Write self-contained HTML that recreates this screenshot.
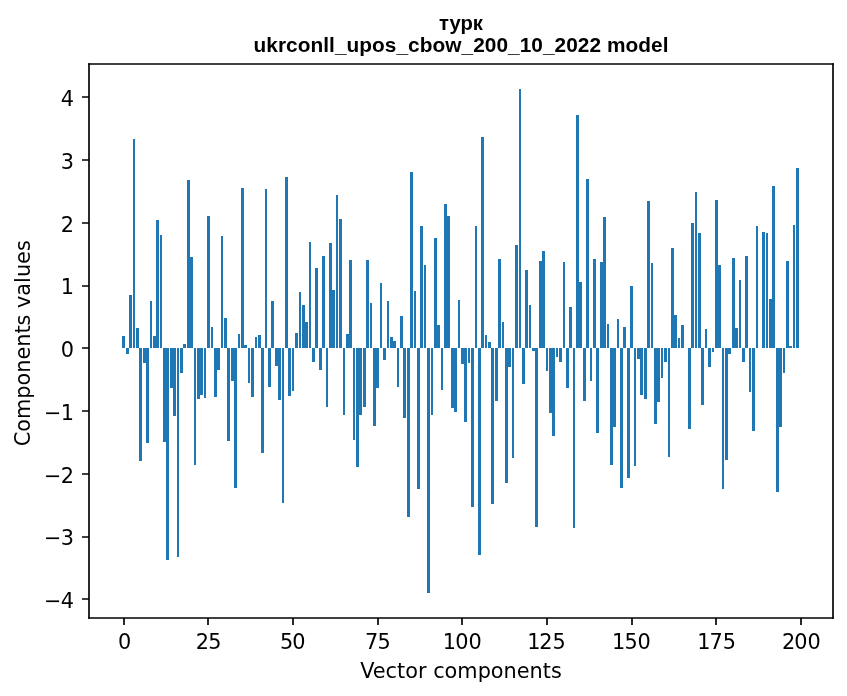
<!DOCTYPE html>
<html lang="uk">
<head>
<meta charset="utf-8">
<title>турк — ukrconll_upos_cbow_200_10_2022 model</title>
<style>
html,body{margin:0;padding:0;background:#fff;}
body{width:847px;height:696px;overflow:hidden;}
svg{display:block;}
.t{font-family:"Liberation Sans","DejaVu Sans",sans-serif;font-weight:bold;fill:#000;}
.l{font-family:"DejaVu Sans","Liberation Sans",sans-serif;fill:#000;}
</style>
</head>
<body>
<svg width="847" height="696" viewBox="0 0 847 696">
<rect x="0" y="0" width="847" height="696" fill="#ffffff"/>
<path d="M122 336h3v12h-3zM126 348h3v6h-3zM129 295h3v53h-3zM133 139h2v209h-2zM136 328h3v20h-3zM139 348h3v113h-3zM143 348h3v15h-3zM146 348h3v95h-3zM150 301h2v47h-2zM153 336h3v12h-3zM156 220h3v128h-3zM160 235h2v113h-2zM163 348h3v94h-3zM166 348h3v212h-3zM170 348h3v40h-3zM173 348h3v68h-3zM177 348h2v209h-2zM180 348h3v25h-3zM183 344h3v4h-3zM187 180h3v168h-3zM190 257h3v91h-3zM194 348h2v117h-2zM197 348h3v51h-3zM200 348h3v47h-3zM204 348h2v50h-2zM207 216h3v132h-3zM211 327h2v21h-2zM214 348h3v49h-3zM217 348h3v22h-3zM221 236h2v112h-2zM224 318h3v30h-3zM227 348h3v93h-3zM231 348h3v33h-3zM234 348h3v140h-3zM238 334h2v14h-2zM241 188h3v160h-3zM244 345h3v3h-3zM248 348h2v35h-2zM251 348h3v49h-3zM255 337h2v11h-2zM258 335h3v13h-3zM261 348h3v105h-3zM265 189h2v159h-2zM268 348h3v39h-3zM271 301h3v47h-3zM275 348h3v18h-3zM278 348h3v52h-3zM282 348h2v155h-2zM285 177h3v171h-3zM288 348h3v48h-3zM292 348h2v43h-2zM295 333h3v15h-3zM299 292h2v56h-2zM302 305h3v43h-3zM305 322h3v26h-3zM309 242h2v106h-2zM312 348h3v14h-3zM315 268h3v80h-3zM319 348h3v22h-3zM322 256h3v92h-3zM326 348h2v59h-2zM329 243h3v105h-3zM332 290h3v58h-3zM336 195h2v153h-2zM339 219h3v129h-3zM343 348h2v67h-2zM346 334h3v14h-3zM349 260h3v88h-3zM353 348h2v92h-2zM356 348h3v119h-3zM359 348h3v67h-3zM363 348h3v59h-3zM366 260h3v88h-3zM370 303h2v45h-2zM373 348h3v78h-3zM376 348h3v40h-3zM380 283h2v65h-2zM383 348h3v12h-3zM387 301h2v47h-2zM390 337h3v11h-3zM393 341h3v7h-3zM397 348h2v39h-2zM400 316h3v32h-3zM403 348h3v70h-3zM407 348h3v169h-3zM410 172h3v176h-3zM414 291h2v57h-2zM417 348h3v141h-3zM420 226h3v122h-3zM424 265h2v83h-2zM427 348h3v245h-3zM431 348h2v67h-2zM434 238h3v110h-3zM437 325h3v23h-3zM441 348h2v42h-2zM444 204h3v144h-3zM447 216h3v132h-3zM451 348h3v60h-3zM454 348h3v64h-3zM458 300h2v48h-2zM461 348h3v16h-3zM464 348h3v74h-3zM468 348h2v15h-2zM471 348h3v159h-3zM475 226h2v122h-2zM478 348h3v207h-3zM481 137h3v211h-3zM485 335h2v13h-2zM488 342h3v6h-3zM491 348h3v156h-3zM495 348h3v53h-3zM498 259h3v89h-3zM502 322h2v26h-2zM505 348h3v135h-3zM508 348h3v19h-3zM512 348h2v110h-2zM515 245h3v103h-3zM519 89h2v259h-2zM522 348h3v36h-3zM525 270h3v78h-3zM529 305h2v43h-2zM532 348h3v3h-3zM535 348h3v179h-3zM539 261h3v87h-3zM542 251h3v97h-3zM546 348h2v23h-2zM549 348h3v65h-3zM552 348h3v88h-3zM556 348h2v9h-2zM559 348h3v14h-3zM563 262h2v86h-2zM566 348h3v40h-3zM569 307h3v41h-3zM573 348h2v180h-2zM576 115h3v233h-3zM579 282h3v66h-3zM583 348h3v53h-3zM586 179h3v169h-3zM590 348h2v33h-2zM593 259h3v89h-3zM596 348h3v85h-3zM600 262h3v86h-3zM603 217h3v131h-3zM607 324h2v24h-2zM610 348h3v117h-3zM613 348h3v79h-3zM617 319h2v29h-2zM620 348h3v140h-3zM623 327h3v21h-3zM627 348h3v130h-3zM630 286h3v62h-3zM634 348h2v118h-2zM637 348h3v11h-3zM640 348h3v47h-3zM644 348h3v51h-3zM647 201h3v147h-3zM651 263h2v85h-2zM654 348h3v76h-3zM657 348h3v54h-3zM661 348h2v30h-2zM664 348h3v14h-3zM668 348h2v109h-2zM671 248h3v100h-3zM674 315h3v33h-3zM678 338h2v10h-2zM681 325h3v23h-3zM688 348h3v81h-3zM691 223h3v125h-3zM695 192h2v156h-2zM698 233h3v115h-3zM701 348h3v57h-3zM705 329h2v19h-2zM708 348h3v19h-3zM712 348h2v4h-2zM715 200h3v148h-3zM718 265h3v83h-3zM722 348h2v141h-2zM725 348h3v112h-3zM728 348h3v6h-3zM732 258h3v90h-3zM735 328h3v20h-3zM739 280h2v68h-2zM742 348h3v14h-3zM745 256h3v92h-3zM749 348h2v44h-2zM752 348h3v83h-3zM756 226h2v122h-2zM762 232h3v116h-3zM766 233h2v115h-2zM769 299h3v49h-3zM772 186h3v162h-3zM776 348h3v144h-3zM779 348h3v79h-3zM783 348h2v25h-2zM786 261h3v87h-3zM789 346h3v2h-3zM793 225h2v123h-2zM796 168h3v180h-3z" fill="#1f77b4" shape-rendering="crispEdges"/>
<path d="M124 618v7M208 618v7M293 618v7M378 618v7M462 618v7M547 618v7M632 618v7M716 618v7M801 618v7M89 599h-7M89 537h-7M89 474h-7M89 411h-7M89 348h-7M89 286h-7M89 223h-7M89 160h-7M89 97h-7" stroke="#000" stroke-width="1.667" fill="none"/>
<path d="M89 618V64" stroke="#000" stroke-width="1.667" stroke-linecap="square" fill="none"/>
<path d="M833 618V64" stroke="#000" stroke-width="1.667" stroke-linecap="square" fill="none"/>
<path d="M89 618H833" stroke="#000" stroke-width="1.667" stroke-linecap="square" fill="none"/>
<path d="M89 64H833" stroke="#000" stroke-width="1.667" stroke-linecap="square" fill="none"/>
<text class="l" x="118.11" y="649" font-size="20.83">0</text>
<text class="l" x="195.72 208.32" y="649" font-size="20.83">25</text>
<text class="l" x="280.05 292.30" y="649" font-size="20.83">50</text>
<text class="l" x="365.08 377.43" y="649" font-size="20.83">75</text>
<text class="l" x="442.78 455.23 468.49" y="649" font-size="20.83">100</text>
<text class="l" x="527.16 539.36 552.62" y="649" font-size="20.83">125</text>
<text class="l" x="611.99 624.39 637.55" y="649" font-size="20.83">150</text>
<text class="l" x="697.17 709.62 722.78" y="649" font-size="20.83">175</text>
<text class="l" x="782.00 794.25 807.51" y="649" font-size="20.83">200</text>
<text class="l" x="43.89 60.85" y="608" font-size="20.83">−4</text>
<text class="l" x="43.89 60.85" y="545" font-size="20.83">−3</text>
<text class="l" x="43.89 60.85" y="483" font-size="20.83">−2</text>
<text class="l" x="43.89 60.85" y="420" font-size="20.83">−1</text>
<text class="l" x="60.85" y="357" font-size="20.83">0</text>
<text class="l" x="60.85" y="294" font-size="20.83">1</text>
<text class="l" x="60.85" y="232" font-size="20.83">2</text>
<text class="l" x="60.85" y="169" font-size="20.83">3</text>
<text class="l" x="60.85" y="106" font-size="20.83">4</text>
<text class="l" x="461.0" y="677.55" font-size="20.83" text-anchor="middle">Vector components</text>
<text class="l" transform="translate(29.5 343.3) rotate(-90)" font-size="20.83" text-anchor="middle">Components values</text>
<text class="t" x="461.0" y="29.8" font-size="20.83" text-anchor="middle" textLength="43.9" lengthAdjust="spacingAndGlyphs">турк</text>
<text class="t" x="461.0" y="51.75" font-size="20.83" text-anchor="middle" textLength="415.0" lengthAdjust="spacing">ukrconll_upos_cbow_200_10_2022 model</text>
</svg>
</body>
</html>
